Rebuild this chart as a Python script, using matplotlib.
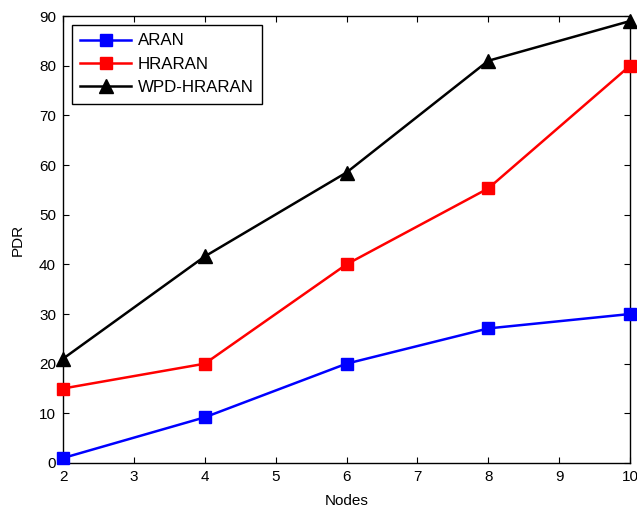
import matplotlib
matplotlib.use('Agg')
import matplotlib.pyplot as plt

nodes = [2, 4, 6, 8, 10]
aran = [1, 9.2, 20, 27.1, 30]
hraran = [15, 20, 40, 55.3, 80]
wpd_hraran = [21, 41.6, 58.5, 81, 89]

plt.rcParams['font.family'] = ['Liberation Sans', 'DejaVu Sans']
plt.rcParams['font.size'] = 11

fig = plt.figure(figsize=(6.37, 5.09), dpi=100)
ax = fig.add_axes([0.099, 0.0904, 0.890, 0.878])

ax.plot(nodes, aran, 's-', color='blue', linewidth=1.8, markersize=8.5, label='ARAN', clip_on=False, zorder=3)
ax.plot(nodes, hraran, 's-', color='red', linewidth=1.8, markersize=8.5, label='HRARAN', clip_on=False, zorder=3)
ax.plot(nodes, wpd_hraran, '^-', color='black', linewidth=1.8, markersize=10.5, label='WPD-HRARAN', clip_on=False, zorder=3)

ax.set_xlim(2, 10)
ax.set_ylim(0, 90)
ax.set_xticks(range(2, 11))
ax.set_yticks(range(0, 91, 10))
ax.tick_params(direction='in', top=True, right=True, length=4, width=0.8, pad=5)
for s in ax.spines.values():
    s.set_linewidth(1.0)

ax.set_xlabel('Nodes', labelpad=7)
ax.set_ylabel('PDR', labelpad=10)

# legend box upper-left corner pinned in figure pixels
leg = ax.legend(loc='upper left', bbox_to_anchor=(72 / 637, 1 - 25 / 509),
                bbox_transform=fig.transFigure, borderaxespad=0,
                fancybox=False, edgecolor='black', framealpha=1,
                handlelength=3.0, handletextpad=0.4, borderpad=0.5,
                labelspacing=0.5, fontsize=12.2)
leg.get_frame().set_linewidth(1.0)

fig.savefig('out.png', dpi=100)
